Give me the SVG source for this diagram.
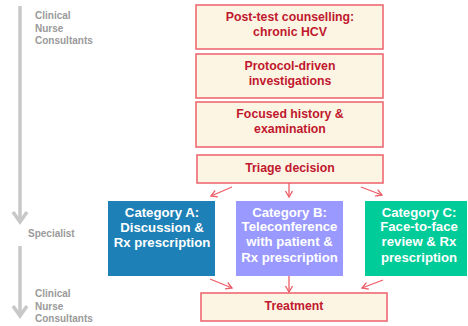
<svg xmlns="http://www.w3.org/2000/svg" width="468" height="326" viewBox="0 0 468 326">
<style>
.box{fill:#FDF5E4;stroke:#EE6A72;stroke-width:1.6}
.bt{font-family:"Liberation Sans",Arial,sans-serif;font-weight:bold;font-size:12.3px;fill:#C0182E;text-anchor:middle}
.ct{font-family:"Liberation Sans",Arial,sans-serif;font-weight:bold;font-size:13.2px;fill:#FFFFFF;text-anchor:middle}
.lt{font-family:"Liberation Sans",Arial,sans-serif;font-weight:bold;font-size:10px;fill:#9A9A9A}
.con{stroke:#EE5C66;stroke-width:1.3;fill:none;marker-end:url(#ah)}
.gl{stroke:#C8C8C8;stroke-width:3.5;fill:none}
</style>
<defs>
<marker id="ah" markerWidth="10" markerHeight="10" refX="7" refY="4" orient="auto" markerUnits="userSpaceOnUse">
<path d="M1,0.5 L7,4 L1,7.5" fill="none" stroke="#EE5C66" stroke-width="1.3"/>
</marker>
</defs>
<g id="lane-arrows">
<path class="gl" d="M20,6 V222"/>
<path class="gl" d="M13,212 L20,222 L27,212"/>
<path class="gl" d="M20,246 V316"/>
<path class="gl" d="M13,306 L20,316 L27,306"/>
</g>
<g id="lane-labels">
<text class="lt" x="35" y="19">Clinical</text>
<text class="lt" x="35" y="32">Nurse</text>
<text class="lt" x="35" y="44">Consultants</text>
<text class="lt" x="28" y="237">Specialist</text>
<text class="lt" x="35" y="297">Clinical</text>
<text class="lt" x="35" y="310">Nurse</text>
<text class="lt" x="35" y="322">Consultants</text>
</g>
<g id="n1"><rect class="box" x="196" y="5" width="187" height="44"/>
<text class="bt" x="290" y="20.5">Post-test counselling:</text>
<text class="bt" x="290" y="35.5">chronic HCV</text></g>
<g id="n2"><rect class="box" x="196" y="54" width="187" height="44"/>
<text class="bt" x="290" y="69.5">Protocol-driven</text>
<text class="bt" x="290" y="84.5">investigations</text></g>
<g id="n3"><rect class="box" x="196" y="102" width="187" height="45"/>
<text class="bt" x="290" y="118">Focused history &amp;</text>
<text class="bt" x="290" y="133">examination</text></g>
<g id="n4"><rect class="box" x="197" y="155" width="186" height="28"/>
<text class="bt" x="290" y="171.5">Triage decision</text></g>
<g id="catA"><rect x="108" y="201" width="107" height="75" fill="#1D80B6"/>
<text class="ct" x="162" y="217">Category A:</text>
<text class="ct" x="162" y="232">Discussion &amp;</text>
<text class="ct" x="162" y="247">Rx prescription</text></g>
<g id="catB"><rect x="236" y="201" width="107" height="75" fill="#9999FF"/>
<text class="ct" x="289.5" y="216.5">Category B:</text>
<text class="ct" x="289.5" y="231">Teleconference</text>
<text class="ct" x="289.5" y="246">with patient &amp;</text>
<text class="ct" x="289.5" y="261.5">Rx prescription</text></g>
<g id="catC"><rect x="365" y="201" width="102" height="75" fill="#00CC99"/>
<text class="ct" x="419" y="216.5">Category C:</text>
<text class="ct" x="419" y="231">Face-to-face</text>
<text class="ct" x="419" y="246">review &amp; Rx</text>
<text class="ct" x="419" y="261.5">prescription</text></g>
<g id="n5"><rect class="box" x="201" y="293" width="186" height="28"/>
<text class="bt" x="294" y="309.5">Treatment</text></g>
<g id="connectors">
<path class="con" d="M232,187 L211,196"/>
<path class="con" d="M289,183 V197"/>
<path class="con" d="M361,187 L382,195"/>
<path class="con" d="M210,279 L232,288"/>
<path class="con" d="M289,276 V292"/>
<path class="con" d="M383,280 L362,288"/>
</g>
</svg>
